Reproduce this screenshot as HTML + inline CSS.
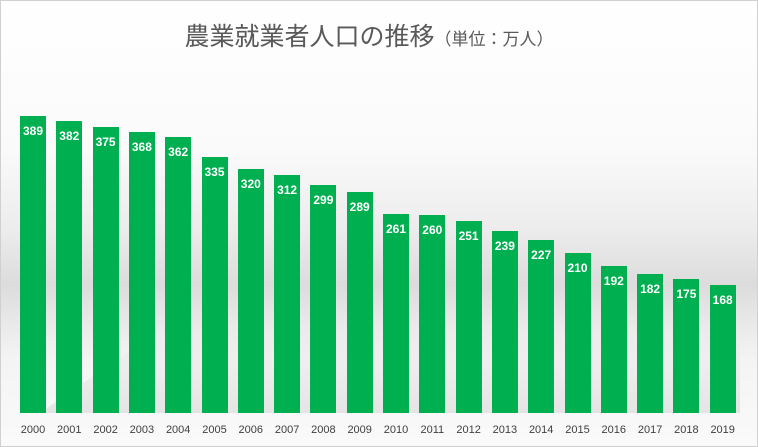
<!DOCTYPE html>
<html><head><meta charset="utf-8"><style>
html,body{margin:0;padding:0}
body{width:758px;height:447px;overflow:hidden;position:relative;font-family:"Liberation Sans","Noto Sans CJK JP",sans-serif;
background:linear-gradient(to bottom,#fff 0px,#fafafa 150px,#ececec 230px,#dcdcdc 285px,#e8e8e8 320px,#f4f4f4 360px,#fafafa 447px);}
.frame{position:absolute;left:0;top:0;width:756px;height:445px;border:1px solid #d0d0d0}
.title{position:absolute;top:17px;left:-10px;width:758px;text-align:center;color:#595959;font-size:25px;white-space:nowrap}
.title small{font-size:17px}
.bar{position:absolute;background:#00b050;width:26px;bottom:34px}
.v{position:absolute;width:40px;margin-left:-7px;text-align:center;color:#fff;font-weight:bold;font-size:12px;top:8px}
.y{position:absolute;top:424px;width:40px;text-align:center;font-size:11px;color:#404040}
</style></head><body>
<div class="frame"></div>
<div class="title">農業就業者人口の推移<small>（単位：万人）</small></div>
<svg style="position:absolute;left:0;top:0" width="758" height="447">
<defs><linearGradient id="s" x1="0" y1="0" x2="0" y2="1"><stop offset="0" stop-color="#bbb" stop-opacity="0"/><stop offset="1" stop-color="#aaa" stop-opacity="0.5"/></linearGradient></defs>
<polygon points="40,413 160,330 740,330 740,413" fill="url(#s)" opacity="0.5"/>
</svg>
<div id="c"></div>
<script>
var d=[389,382,375,368,362,335,320,312,299,289,261,260,251,239,227,210,192,182,175,168],h='';
for(var i=0;i<20;i++){var x=20+i*36.3,hh=d[i]*0.7635;
h+='<div class="bar" style="left:'+x+'px;height:'+hh+'px"><div class="v">'+d[i]+'</div></div>';
h+='<div class="y" style="left:'+(x-7)+'px">'+(2000+i)+'</div>';}
document.getElementById('c').innerHTML=h;
</script>
</body></html>
